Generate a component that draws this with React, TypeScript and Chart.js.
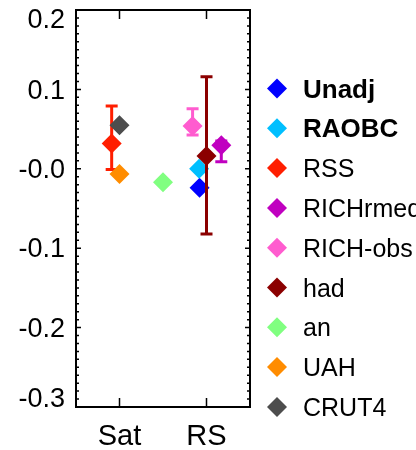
import React, { useEffect, useRef } from 'react';
import { Chart, registerables } from 'chart.js';

Chart.register(...registerables);

// Trend estimates per data set, grouped as satellite (Sat) and radiosonde (RS)
const seriesNames = ['Unadj', 'RAOBC', 'RSS', 'RICHrmed', 'RICH-obs', 'had', 'an', 'UAH', 'CRUT4'];
const boldNames = ['Unadj', 'RAOBC'];
const seriesColors = ['#0000ff', '#00bfff', '#ff1e00', '#c000c0', '#ff5ccf', '#8b0000', '#80ff80', '#ff8c00', '#4d4d4d'];
const groupLabels = ['Sat', 'RS'];
const groupPositions = [1, 2];
const xPositions = [1.92, 1.915, 0.91, 2.17, 1.84, 2.0, 1.5, 1.0, 1.0];
const trendValues = [-0.024, 0.0, 0.032, 0.0296, 0.054, 0.016, -0.017, -0.0067, 0.055];
const errLow: (number | null)[] = [null, null, -0.001, 0.009, 0.0425, -0.082, null, null, null];
const errHigh: (number | null)[] = [null, null, 0.079, 0.035, 0.0755, 0.116, null, null, null];
const yTickValues = [0.2, 0.1, 0, -0.1, -0.2, -0.3];
const yTickLabels = ['0.2', '0.1', '-0.0', '-0.1', '-0.2', '-0.3'];

const FONT = "'Liberation Sans', Arial, Helvetica, sans-serif";

function diamond(ctx: CanvasRenderingContext2D, x: number, y: number, r: number, color: string) {
  ctx.beginPath();
  ctx.moveTo(x - r, y);
  ctx.lineTo(x, y - r);
  ctx.lineTo(x + r, y);
  ctx.lineTo(x, y + r);
  ctx.closePath();
  ctx.fillStyle = color;
  ctx.fill();
}

const framePlugin = {
  id: 'frameAndLegend',
  beforeDatasetDraw(chart: any, args: any) {
    const i = args.index;
    const lo = errLow[i];
    const hi = errHigh[i];
    if (lo == null || hi == null) return;
    const pt = args.meta.data[0];
    if (!pt) return;
    const ys = chart.scales.y;
    const ctx: CanvasRenderingContext2D = chart.ctx;
    const x = pt.x;
    const yl = ys.getPixelForValue(lo);
    const yh = ys.getPixelForValue(hi);
    ctx.save();
    ctx.strokeStyle = seriesColors[i];
    ctx.lineWidth = 3;
    ctx.beginPath();
    ctx.moveTo(x, yl);
    ctx.lineTo(x, yh);
    ctx.moveTo(x - 6, yl);
    ctx.lineTo(x + 6, yl);
    ctx.moveTo(x - 6, yh);
    ctx.lineTo(x + 6, yh);
    ctx.stroke();
    ctx.restore();
  },
  afterDraw(chart: any) {
    const ctx: CanvasRenderingContext2D = chart.ctx;
    const { left, right, top, bottom } = chart.chartArea;
    const xs = chart.scales.x;
    const ys = chart.scales.y;
    ctx.save();

    // frame
    ctx.strokeStyle = '#000';
    ctx.lineWidth = 2;
    ctx.strokeRect(left, top, right - left, bottom - top);

    // y ticks (inward, both sides), minor every 0.01
    ctx.lineWidth = 1.5;
    ctx.beginPath();
    for (let k = -30; k <= 20; k++) {
      const y = ys.getPixelForValue(k / 100);
      const len = k % 10 === 0 ? 5 : 3;
      ctx.moveTo(left, y);
      ctx.lineTo(left + len, y);
      ctx.moveTo(right, y);
      ctx.lineTo(right - len, y);
    }
    // x ticks (inward, top and bottom)
    groupPositions.forEach((g) => {
      const x = xs.getPixelForValue(g);
      ctx.moveTo(x, top);
      ctx.lineTo(x, top + 9);
      ctx.moveTo(x, bottom);
      ctx.lineTo(x, bottom - 9);
    });
    ctx.stroke();

    // y tick labels
    const ySize = 27;
    const yCap = ySize * 0.68;
    ctx.fillStyle = '#000';
    ctx.font = `${ySize}px ${FONT}`;
    ctx.textAlign = 'right';
    ctx.textBaseline = 'alphabetic';
    yTickValues.forEach((v, k) => {
      let c = ys.getPixelForValue(v);
      c = Math.min(Math.max(c, top + yCap / 2), bottom - yCap / 2);
      ctx.fillText(yTickLabels[k], left - 11, c + yCap / 2);
    });

    // x tick labels
    ctx.font = `29px ${FONT}`;
    ctx.textAlign = 'center';
    groupLabels.forEach((lab, k) => {
      ctx.fillText(lab, xs.getPixelForValue(groupPositions[k]), 445);
    });

    // legend
    const lx = 277;
    const ly0 = 88.5;
    const step = 39.8;
    ctx.textAlign = 'left';
    seriesNames.forEach((name, k) => {
      const y = ly0 + k * step;
      diamond(ctx, lx, y, 10, seriesColors[k]);
      ctx.fillStyle = '#000';
      const bold = boldNames.includes(name);
      ctx.font = `${bold ? 'bold 26px' : '25px'} ${FONT}`;
      ctx.fillText(name, 303, y + 9);
    });

    ctx.restore();
  },
};

export default function App() {
  const canvasRef = useRef<HTMLCanvasElement | null>(null);

  useEffect(() => {
    const canvas = canvasRef.current;
    if (!canvas) return;
    const chart = new Chart(canvas, {
      type: 'scatter',
      data: {
        datasets: seriesNames.map((name, i) => ({
          label: name,
          data: [{ x: xPositions[i], y: trendValues[i] }],
          backgroundColor: seriesColors[i],
          borderColor: seriesColors[i],
          pointStyle: 'rectRot',
          pointRadius: 10,
          pointBorderWidth: 0,
          order: -i,
        })),
      },
      options: {
        responsive: false,
        animation: false,
        events: [],
        layout: { padding: { left: 0, right: 166, top: 9, bottom: 0 } },
        plugins: {
          legend: { display: false },
          tooltip: { enabled: false },
        },
        scales: {
          x: {
            type: 'linear',
            min: 0.5,
            max: 2.5,
            grid: { display: false },
            border: { display: false },
            ticks: { display: false },
            afterFit: (s: any) => {
              s.height = 43;
            },
          },
          y: {
            min: -0.3,
            max: 0.2,
            grid: { display: false },
            border: { display: false },
            ticks: { display: false },
            afterFit: (s: any) => {
              s.width = 76;
            },
          },
        },
      } as any,
      plugins: [framePlugin],
    });
    return () => chart.destroy();
  }, []);

  return (
    <div style={{ position: 'fixed', left: 0, top: 0, width: 416, height: 450, background: '#fff' }}>
      <canvas ref={canvasRef} width={416} height={450} />
    </div>
  );
}
